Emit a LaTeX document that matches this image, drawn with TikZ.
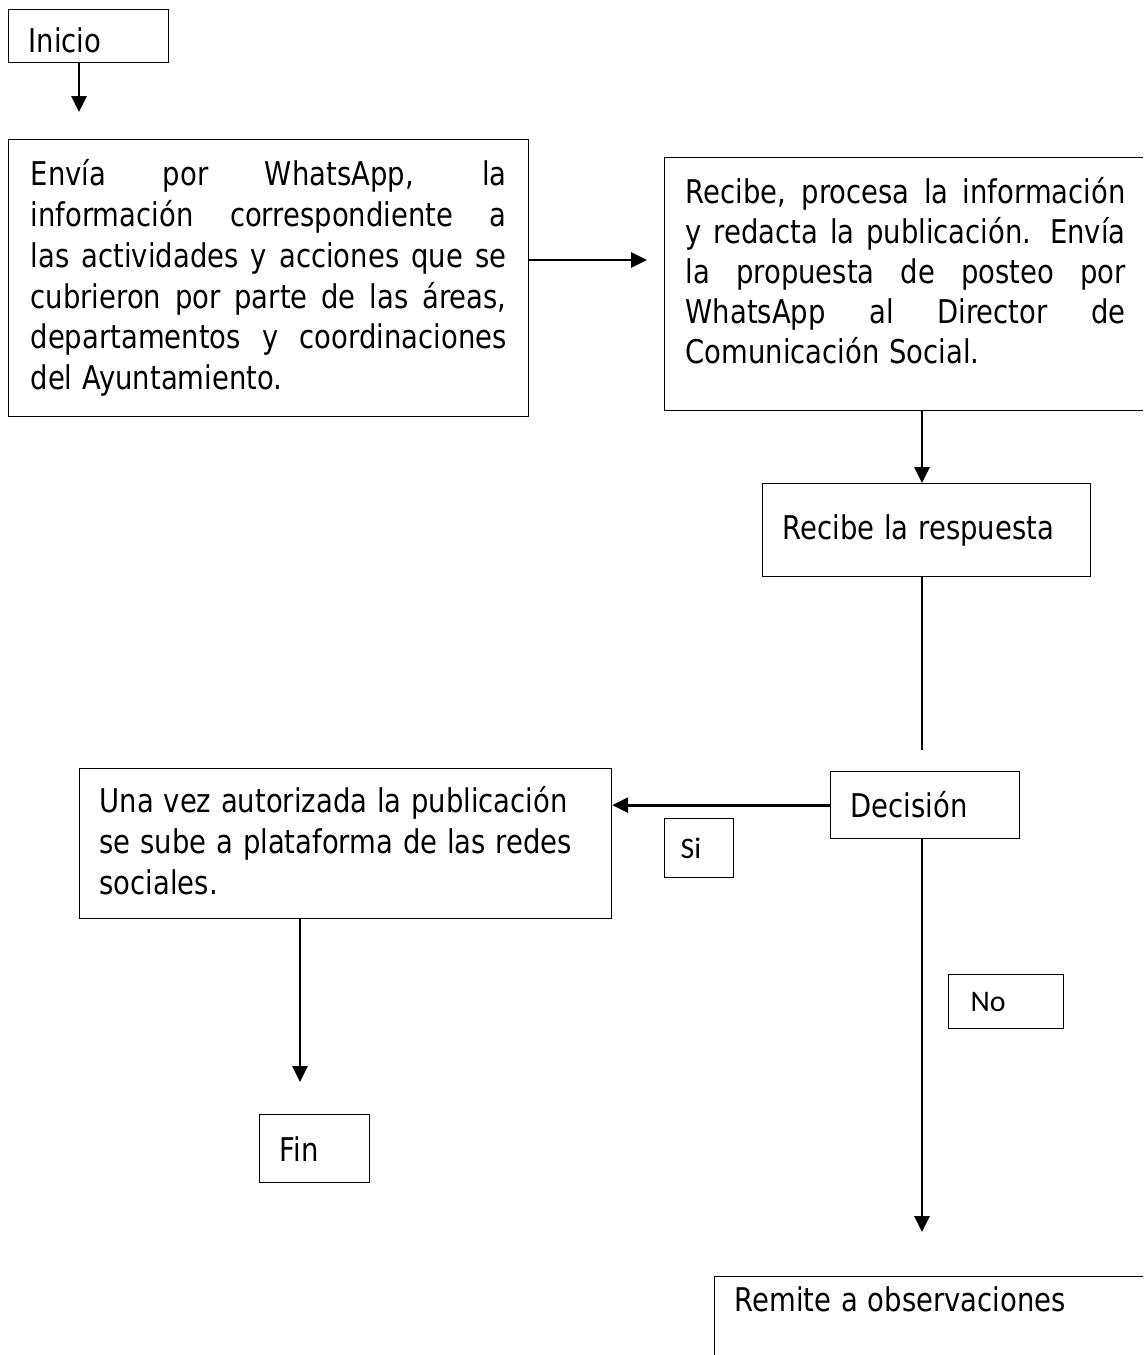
\documentclass[tikz,border=0pt]{standalone}
\usepackage{fontspec}
\setmainfont{DejaVu Sans}[FakeStretch=0.84, WordSpace=1.12]
\newfontfamily\tagfont{Carlito}
\usetikzlibrary{arrows.meta}
\hyphenpenalty=10000
\exhyphenpenalty=10000
\tolerance=10000

\begin{document}
\begin{tikzpicture}[x=0.02cm, y=-0.02cm,
  box/.style={draw, line width=0.75pt, anchor=north west, align=justify, inner xsep=0.4cm, inner ysep=0pt, font=\fontsize{18.6}{23.2}\selectfont},
  tag/.style={draw, line width=0.75pt, anchor=north west, align=left, inner ysep=0pt, font=\tagfont\fontsize{17}{20}\selectfont},
  arr/.style={line width=1.6pt, -{Triangle[length=0.32cm, width=0.3cm]}},
  link/.style={line width=0.6pt}]

\useasboundingbox (0,0) rectangle (1143,1355);
\clip (0,0) rectangle (1143,1355);

% Boxes
\node[box, text width=2.4cm, minimum width=3.2cm, text height=0.76cm, text depth=0.1cm, inner ysep=0.1cm] (inicio) at (8,9) {Inicio};
\node[box, text width=9.52cm, minimum width=10.4cm, minimum height=5.54cm] (envia) at (8,139)
  {Envía por WhatsApp, la\linebreak información correspondiente a\linebreak las actividades y acciones que se\linebreak cubrieron por parte de las áreas,\linebreak departamentos y coordinaciones\linebreak del Ayuntamiento.};
\node[box, text width=8.8cm, inner xsep=0.42cm, text height=0.92cm, text depth=4.14cm, font=\fontsize{18.6}{22.8}\selectfont] (recibe) at (664,157)
  {Recibe, procesa la información\linebreak y redacta la publicación. Envía\linebreak la propuesta de posteo por\linebreak WhatsApp al Director de\linebreak Comunicación Social.};
\node[box, text width=5.76cm, minimum width=6.56cm, minimum height=1.86cm] (respuesta) at (762,483) {Recibe la respuesta};
\node[box, text width=2.98cm, minimum width=3.78cm, minimum height=1.34cm] (decision) at (830,771) {Decisión};
\node[box, text width=9.84cm, minimum width=10.64cm, text height=0.88cm, text depth=2.12cm] (autoriza) at (79,768)
  {Una vez autorizada la publicación\\se sube a plataforma de las redes\\sociales.};
\node[box, text width=1.4cm, minimum width=2.2cm, minimum height=1.36cm] (fin) at (259,1114) {Fin};
\node[box, text width=8.2cm, minimum width=9cm, inner ysep=0.2cm, text depth=2cm] (remite) at (714,1276) {Remite a observaciones};

% Labels of the branches
\node[tag, text width=0.74cm, inner xsep=0.32cm, minimum width=1.38cm, minimum height=1.18cm] (si) at (664,818) {Si};
\node[tag, text width=1.42cm, inner xsep=0.44cm, minimum width=2.3cm, minimum height=1.08cm] (no) at (948,974) {No};

% Connectors
\coordinate (axis) at (922,0);
\coordinate (p1) at (79,112);
\coordinate (p2) at (647,260);
\coordinate (p4) at (922,750);
\coordinate (p5) at (922,1232);
\coordinate (p6) at (300,1082);
\draw[arr] (inicio.south -| p1) -- (p1);
\draw[arr] (envia.east |- p2) -- (p2);
\draw[arr] (recibe.south -| axis) -- (respuesta.north -| axis);
\draw[link] (respuesta.south -| axis) -- (p4);
\draw[arr] (decision.west) -- (autoriza.east |- decision.west);
\draw[arr] (autoriza.south -| p6) -- (p6);
\draw[arr] (decision.south -| axis) -- (p5);

\end{tikzpicture}
\end{document}
